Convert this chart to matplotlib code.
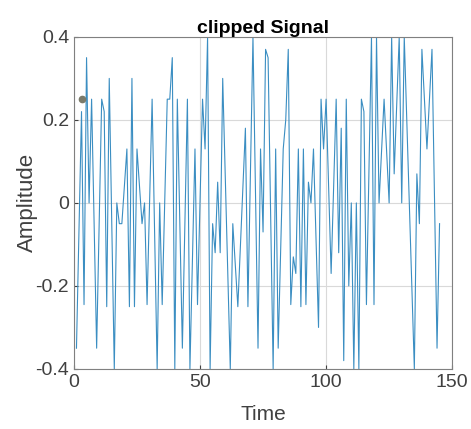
import numpy as np
import matplotlib
matplotlib.use("Agg")
import matplotlib.pyplot as plt

# sample times and clipped amplitudes
time = [1, 3, 4, 5, 6, 7, 9, 11, 12, 13, 14, 16, 17, 18, 19, 21, 22, 23, 24, 25,
        27, 28, 29, 31, 33, 34, 35, 37, 38, 39, 40, 41, 43, 45, 46, 48, 49, 51, 52, 53,
        54, 55, 56, 57, 58, 59, 62, 63, 65, 68, 69, 71, 73, 74, 75, 76, 77, 79, 80, 81,
        83, 84, 85, 86, 87, 88, 89, 90, 91, 92, 93, 94, 95, 97, 98, 99, 100, 102, 104, 105,
        106, 107, 108, 109, 110, 111, 112, 113, 114, 115, 116, 118, 119, 120, 121, 123, 125, 126, 127, 129,
        130, 131, 135, 136, 137, 138, 140, 142, 144, 145]
amplitude = [-0.35, 0.22, -0.245, 0.35, 0.0, 0.25, -0.35, 0.25, 0.22, -0.25, 0.30, -0.4, 0.0, -0.05, -0.05, 0.13, -0.25, 0.30, -0.25, 0.13,
             -0.05, 0.0, -0.245, 0.25, -0.4, 0.0, -0.245, 0.25, 0.25, 0.35, -0.4, 0.25, -0.35, 0.25, -0.4, 0.13, -0.245, 0.25, 0.13, 0.4,
             -0.4, -0.05, -0.12, 0.05, -0.12, 0.30, -0.4, -0.05, -0.25, 0.18, -0.25, 0.4, -0.35, 0.13, -0.07, 0.37, 0.35, -0.4, 0.13, -0.35,
             0.13, 0.2, 0.37, -0.245, -0.13, -0.17, 0.13, -0.25, 0.13, -0.245, 0.05, 0.0, 0.13, -0.3, 0.25, 0.13, 0.25, -0.17, 0.25, -0.12,
             0.18, -0.38, 0.25, -0.2, 0.0, -0.4, 0.0, -0.4, 0.25, 0.22, -0.245, 0.4, -0.245, 0.4, 0.0, 0.25, 0.0, 0.4, 0.07, 0.4,
             0.0, 0.4, -0.4, 0.07, -0.05, 0.37, 0.13, 0.37, -0.35, -0.05]

marker_t = [3]
marker_a = [0.25]

plt.rcParams['font.family'] = ['Liberation Sans', 'DejaVu Sans']

fig = plt.figure(figsize=(4.71, 4.29), dpi=100)
ax = fig.add_axes([0.157, 0.140, 0.803, 0.774])

ax.plot(time, amplitude, color='#3b8ec2', linewidth=0.8)
ax.plot(marker_t, marker_a, 'o', color='#7a7a6a', markersize=4.5)

ax.set_xlim(0, 150)
ax.set_ylim(-0.4, 0.4)
ax.set_xticks([0, 50, 100, 150])
ax.set_yticks([-0.4, -0.2, 0, 0.2, 0.4])
ax.set_yticklabels(['-0.4', '-0.2', '0', '0.2', '0.4'])
ax.tick_params(direction='in', labelsize=14, colors='#404040', length=3)
ax.grid(True, color='#d9d9d9', linewidth=0.8)
for s in ax.spines.values():
    s.set_color('#808080')

ax.set_title('clipped Signal', fontsize=14, fontweight='bold', pad=3)
ax.set_xlabel('Time', fontsize=15, color='#404040', labelpad=10)
ax.set_ylabel('Amplitude', fontsize=16, color='#404040', labelpad=-2)

fig.savefig('out.png', dpi=100)
